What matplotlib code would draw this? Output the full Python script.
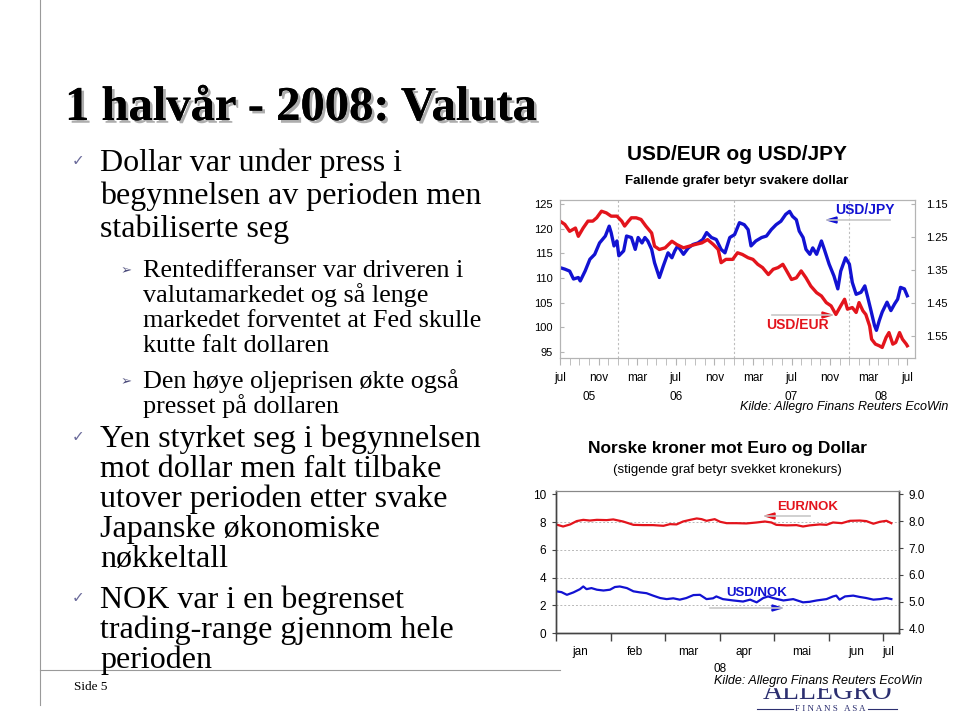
import numpy as np
import matplotlib
matplotlib.use('Agg')
from matplotlib import pyplot as plt
from matplotlib import transforms
import matplotlib.patheffects as pe

# --- data: USD/JPY (left axis) and USD/EUR (right axis, inverted), months since jul 2005
jpy_months = [0.0, 0.5, 1.0, 1.4, 1.9, 2.1, 2.6, 3.1, 3.6, 4.1, 4.7, 5.1, 5.3, 5.6, 5.9,
              6.1, 6.6, 6.9, 7.4, 7.8, 8.1, 8.5, 8.8, 9.1, 9.5, 9.8, 10.3, 10.7, 11.2, 11.6,
              11.9, 12.2, 12.8, 13.3, 13.8, 14.3, 14.8, 15.2, 15.7, 16.2, 16.7, 17.1, 17.6,
              18.1, 18.6, 19.1, 19.5, 19.8, 20.3, 20.9, 21.4, 21.9, 22.4, 22.9, 23.4, 23.8,
              24.1, 24.5, 24.8, 25.2, 25.5, 25.9, 26.2, 26.6, 27.1, 27.4, 27.9, 28.4, 28.8,
              29.1, 29.6, 30.0, 30.3, 30.7, 31.2, 31.6, 31.9, 32.2, 32.6, 32.8, 33.1, 33.4,
              33.9, 34.3, 34.7, 35.0, 35.3, 35.7, 36.0]
jpy_values = [112.1, 111.8, 111.4, 109.8, 110.1, 109.4, 111.4, 113.8, 114.8, 117.1, 118.5,
              120.5, 119.2, 116.5, 117.5, 114.5, 115.5, 118.5, 118.2, 115.8, 118.2, 117.1,
              118.2, 117.5, 115.8, 113.1, 110.1, 112.4, 115.1, 114.1, 115.5, 116.5, 114.8,
              116.1, 116.8, 117.1, 117.8, 119.2, 118.2, 117.8, 115.8, 115.1, 118.2, 118.8,
              121.2, 120.8, 119.8, 116.5, 117.5, 118.2, 118.5, 119.8, 120.8, 121.5, 122.9,
              123.5, 122.5, 121.8, 119.5, 118.2, 115.8, 114.8, 116.1, 114.8, 117.5, 115.8,
              112.8, 110.4, 107.8, 111.4, 114.1, 112.8, 109.1, 106.7, 107.1, 108.4, 106.1,
              103.7, 100.4, 99.4, 101.4, 103.1, 105.1, 103.4, 104.8, 105.7, 108.1, 107.8, 106.4]
eur_months = [0.0, 0.5, 1.0, 1.6, 1.9, 2.4, 2.9, 3.4, 3.8, 4.3, 4.8, 5.3, 5.9, 6.4, 6.7,
              7.1, 7.4, 7.9, 8.4, 8.9, 9.5, 9.8, 10.3, 10.9, 11.6, 12.1, 12.8, 13.4, 14.0,
              14.7, 15.3, 15.9, 16.4, 16.7, 17.2, 17.9, 18.4, 18.9, 19.5, 20.0, 20.5, 21.0,
              21.6, 22.1, 22.6, 23.1, 23.4, 24.0, 24.5, 25.0, 25.5, 26.0, 26.6, 27.1, 27.6,
              28.1, 28.6, 29.1, 29.5, 29.8, 30.3, 30.7, 31.0, 31.4, 31.7, 32.1, 32.3, 32.7,
              33.1, 33.4, 33.8, 34.1, 34.5, 34.8, 35.2, 35.5, 35.9, 36.0]
eur_values = [1.202, 1.212, 1.233, 1.223, 1.248, 1.223, 1.202, 1.202, 1.192, 1.172, 1.177,
              1.187, 1.187, 1.202, 1.217, 1.202, 1.192, 1.192, 1.197, 1.217, 1.238, 1.278,
              1.288, 1.283, 1.263, 1.273, 1.283, 1.278, 1.273, 1.268, 1.258, 1.273, 1.288,
              1.328, 1.318, 1.318, 1.298, 1.303, 1.313, 1.318, 1.333, 1.343, 1.364, 1.348,
              1.343, 1.333, 1.348, 1.379, 1.374, 1.353, 1.374, 1.399, 1.419, 1.429, 1.449,
              1.459, 1.485, 1.459, 1.439, 1.469, 1.464, 1.479, 1.449, 1.474, 1.485, 1.520,
              1.560, 1.575, 1.580, 1.585, 1.555, 1.540, 1.575, 1.570, 1.540, 1.560, 1.575, 1.580]
top_month_labels = ['jul', 'nov', 'mar', 'jul', 'nov', 'mar', 'jul', 'nov', 'mar', 'jul']
top_year_labels = ['05', '06', '07', '08']
left_ticks_top = [95, 100, 105, 110, 115, 120, 125]
right_ticks_top = [1.15, 1.25, 1.35, 1.45, 1.55]

# --- data: EUR/NOK (left axis) and USD/NOK (right axis), months since jan 2008
eurnok_months = [0, 0.13, 0.26, 0.38, 0.50, 0.62, 0.75, 0.93, 1.05, 1.23, 1.42, 1.60, 1.78,
                 1.97, 2.09, 2.21, 2.33, 2.46, 2.58, 2.67, 2.76, 2.91, 3.01, 3.13, 3.31, 3.49,
                 3.68, 3.83, 3.95, 4.04, 4.23, 4.41, 4.53, 4.65, 4.84, 4.96, 5.08, 5.24, 5.39,
                 5.57, 5.69, 5.82, 5.94, 6.06, 6.15]
eurnok_values = [7.83, 7.68, 7.83, 8.07, 8.16, 8.11, 8.16, 8.14, 8.19, 8.04, 7.80, 7.78, 7.78,
                 7.73, 7.85, 7.83, 8.04, 8.16, 8.26, 8.21, 8.09, 8.21, 8.02, 7.92, 7.92, 7.90,
                 7.97, 8.04, 7.97, 7.80, 7.76, 7.78, 7.68, 7.76, 7.83, 7.80, 7.97, 7.92, 8.09,
                 8.11, 8.07, 7.88, 8.02, 8.09, 7.92]
usdnok_months = [0, 0.10, 0.20, 0.32, 0.44, 0.50, 0.56, 0.65, 0.75, 0.87, 0.99, 1.08, 1.17,
                 1.30, 1.42, 1.54, 1.66, 1.78, 1.91, 2.03, 2.15, 2.27, 2.39, 2.52, 2.64, 2.76,
                 2.88, 2.94, 3.06, 3.25, 3.43, 3.56, 3.68, 3.80, 3.89, 3.98, 4.17, 4.35, 4.53,
                 4.65, 4.78, 4.96, 5.08, 5.14, 5.20, 5.30, 5.45, 5.57, 5.69, 5.82, 5.94, 6.06, 6.15]
usdnok_values = [5.39, 5.36, 5.26, 5.35, 5.47, 5.57, 5.47, 5.51, 5.45, 5.42, 5.45, 5.55, 5.57,
                 5.51, 5.39, 5.35, 5.32, 5.23, 5.14, 5.10, 5.13, 5.08, 5.14, 5.25, 5.26, 5.10,
                 5.13, 5.20, 5.10, 5.05, 5.01, 5.08, 4.98, 5.14, 5.20, 5.14, 5.05, 5.10, 4.98,
                 5.00, 5.05, 5.10, 5.20, 5.23, 5.08, 5.20, 5.23, 5.18, 5.14, 5.08, 5.10, 5.14, 5.10]
bottom_month_labels = ['jan', 'feb', 'mar', 'apr', 'mai', 'jun', 'jul']
left_ticks_bot = [0, 2, 4, 6, 8, 10]
right_ticks_bot = [4.0, 5.0, 6.0, 7.0, 8.0, 9.0]

# slide text
title = '1 halvår - 2008: Valuta'
bullet1 = ['Dollar var under press i', 'begynnelsen av perioden men', 'stabiliserte seg']
sub1 = ['Rentedifferanser var driveren i', 'valutamarkedet og så lenge',
        'markedet forventet at Fed skulle', 'kutte falt dollaren']
sub2 = ['Den høye oljeprisen økte også', 'presset på dollaren']
bullet2 = ['Yen styrket seg i begynnelsen', 'mot dollar men falt tilbake',
           'utover perioden etter svake', 'Japanske økonomiske', 'nøkkeltall']
bullet3 = ['NOK var i en begrenset', 'trading-range gjennom hele', 'perioden']

W, H = 960, 720
def fx(x):
    return x / W
def fy(y):
    return 1 - y / H

SANS = ['Liberation Sans', 'DejaVu Sans']
SERIF = ['Liberation Serif', 'DejaVu Serif']
RED = '#e3141c'
BLUE = '#1212d2'
GRAYLINE = '#b4b4b4'

fig = plt.figure(figsize=(9.6, 7.2), dpi=100)
fig.patch.set_facecolor('white')

# slide frame lines
fig.add_artist(plt.Line2D([fx(40), fx(40)], [fy(0), fy(705)], color='#9a9a9a', lw=0.8))
fig.add_artist(plt.Line2D([fx(40), fx(560)], [fy(670), fy(670)], color='#9a9a9a', lw=0.8))

# title with shadow
fig.text(fx(65), fy(120), title, family=SERIF, fontsize=35, fontweight='bold',
         color='black', va='baseline',
         path_effects=[pe.withSimplePatchShadow(offset=(2, -2), shadow_rgbFace='#777777', alpha=0.6),
                       pe.Normal()])

# bullets
MAIN = 23
SUB = 18.8
def main_block(lines, y0, pitch=30):
    fig.text(fx(72), fy(y0 - 6), '\u2713', family=['DejaVu Sans'], fontsize=11,
             color='#6a6a9a', va='baseline', ha='left')
    for i, t in enumerate(lines):
        fig.text(fx(100), fy(y0 + i * pitch), t, family=SERIF, fontsize=MAIN, va='baseline')

def sub_block(lines, y0, pitch=25):
    fig.text(fx(121), fy(y0 - 3), '\u27a2', family=['DejaVu Sans'], fontsize=9.5,
             color='#4a4a7a', va='baseline', ha='left')
    for i, t in enumerate(lines):
        fig.text(fx(143), fy(y0 + i * pitch), t, family=SERIF, fontsize=SUB, va='baseline')

main_block(bullet1, 171, pitch=33)
sub_block(sub1, 277)
sub_block(sub2, 388)
main_block(bullet2, 447)
main_block(bullet3, 608)
fig.text(fx(91), fy(687), 'Side 5', family=SERIF, fontsize=9.5, ha='center', va='center')

# ---------------- top chart ----------------
ax1 = fig.add_axes([fx(560), fy(358), fx(915) - fx(560), fy(200) - fy(358)])
ax1.plot(jpy_months, jpy_values, color=BLUE, lw=2.4, solid_joinstyle='round')
ax1.set_xlim(0, 36.8)
ax1.set_ylim(93.8, 125.8)
ax1.set_yticks(left_ticks_top)
ax1.set_yticklabels([str(v) for v in left_ticks_top], family=SANS, fontsize=8)
ax1.set_xticks(np.arange(0, 37, 4))
ax1.set_xticklabels(top_month_labels, family=SANS, fontsize=8.5)
ax1.set_xticks(np.arange(0, 37, 1), minor=True)
ax1.tick_params(axis='x', which='both', direction='out', length=5, color=GRAYLINE, pad=5)
ax1.tick_params(axis='y', direction='in', length=3, color=GRAYLINE, pad=5)
for x in [6, 18, 30]:
    ax1.axvline(x, color='#bdbdbd', lw=0.8, ls=(0, (2, 2)), zorder=0)
for s in ax1.spines.values():
    s.set_color(GRAYLINE)
    s.set_linewidth(0.8)
trans = transforms.blended_transform_factory(ax1.transData, ax1.transAxes)
for x, lab in zip([3, 12, 24, 33.3], top_year_labels):
    ax1.text(x, -0.245, lab, transform=trans, family=SANS, fontsize=8.5, ha='center', va='center')

ax2 = ax1.twinx()
ax2.plot(eur_months, eur_values, color=RED, lw=2.4, solid_joinstyle='round')
ax2.set_ylim(1.617, 1.138)
ax2.set_yticks(right_ticks_top)
ax2.set_yticklabels(['%.2f' % v for v in right_ticks_top], family=SANS, fontsize=8)
ax2.tick_params(axis='y', direction='in', length=3, color=GRAYLINE, pad=8)
for s in ax2.spines.values():
    s.set_color(GRAYLINE)
    s.set_linewidth(0.8)

fig.text(fx(737), fy(155), 'USD/EUR og USD/JPY', family=SANS, fontsize=15, fontweight='bold',
         ha='center', va='center')
fig.text(fx(737), fy(181), 'Fallende grafer betyr svakere dollar', family=SANS, fontsize=9.5,
         fontweight='bold', ha='center', va='center')
fig.text(fx(948), fy(407), 'Kilde: Allegro Finans Reuters EcoWin', family=SANS, fontsize=9,
         style='italic', ha='right', va='center')

# series labels with arrows
fig.text(fx(865), fy(210), 'USD/JPY', family=SANS, fontsize=10, fontweight='bold', color=BLUE,
         ha='center', va='center')
fig.text(fx(797), fy(325), 'USD/EUR', family=SANS, fontsize=10, fontweight='bold', color=RED,
         ha='center', va='center')

def label_arrow(x_tail, x_head, y, col):
    fig.add_artist(plt.Line2D([fx(x_tail), fx(x_head)], [fy(y), fy(y)], color='#c8c8c8', lw=1.2))
    d = 10 if x_head > x_tail else -10
    fig.add_artist(plt.Polygon([[fx(x_head), fy(y)], [fx(x_head - d), fy(y - 3)],
                                [fx(x_head - d), fy(y + 3)]], closed=True, color=col))

label_arrow(890, 827, 220, BLUE)
label_arrow(772, 832, 315, RED)

# ---------------- bottom chart ----------------
ax3 = fig.add_axes([fx(556), fy(633), fx(899) - fx(556), fy(491) - fy(633)])
ax3.plot(eurnok_months, eurnok_values, color=RED, lw=1.6)
ax3.set_xlim(0, 6.29)
ax3.set_ylim(0.05, 10.24)
ax3.set_yticks(left_ticks_bot)
ax3.set_yticklabels([str(v) for v in left_ticks_bot], family=SANS, fontsize=8.5)
for y in [2, 4, 6, 8]:
    ax3.axhline(y, color='#b8b8b8', lw=0.7, ls=(0, (2, 2)), zorder=0)
ax3.set_xticks(np.arange(0, 7, 1))
ax3.set_xticklabels([])
ax3.tick_params(axis='x', which='major', direction='out', length=6, color='#444444', width=1)
ax3.tick_params(axis='y', direction='out', length=3, color='#444444', pad=4)
for k in ['left', 'bottom', 'right']:
    ax3.spines[k].set_color('#444444')
    ax3.spines[k].set_linewidth(1.0)
ax3.spines['top'].set_color('#888888')
ax3.spines['top'].set_linewidth(0.8)
tb = transforms.blended_transform_factory(ax3.transData, ax3.transAxes)
for x, lab in zip([0.45, 1.45, 2.42, 3.45, 4.5, 5.5, 6.1], bottom_month_labels):
    ax3.text(x, -0.135, lab, transform=tb, family=SANS, fontsize=8.5, ha='center', va='center')
ax3.text(3.0, -0.25, '08', transform=tb, family=SANS, fontsize=8.5, ha='center', va='center')

ax4 = ax3.twinx()
ax4.plot(usdnok_months, usdnok_values, color=BLUE, lw=1.6)
ax4.set_ylim(3.84, 9.12)
ax4.set_yticks(right_ticks_bot)
ax4.set_yticklabels(['%.1f' % v for v in right_ticks_bot], family=SANS, fontsize=8.5)
ax4.tick_params(axis='y', direction='out', length=3, color='#444444', pad=4)
for k in ['left', 'bottom', 'right']:
    ax4.spines[k].set_color('#444444')
    ax4.spines[k].set_linewidth(1.0)
ax4.spines['top'].set_color('#888888')
ax4.spines['top'].set_linewidth(0.8)

fig.text(fx(727), fy(448), 'Norske kroner mot Euro og Dollar', family=SANS, fontsize=12.5,
         fontweight='bold', ha='center', va='center')
fig.text(fx(727), fy(470), '(stigende graf betyr svekket kronekurs)', family=SANS, fontsize=9.5,
         ha='center', va='center')
fig.text(fx(808), fy(507), 'EUR/NOK', family=SANS, fontsize=9.5, fontweight='bold', color=RED,
         ha='center', va='center')
fig.text(fx(757), fy(593), 'USD/NOK', family=SANS, fontsize=9.5, fontweight='bold', color=BLUE,
         ha='center', va='center')
label_arrow(810, 765, 516, RED)
label_arrow(710, 782, 608, BLUE)

# logo, top half hidden behind the source line
fig.text(fx(828), fy(699), 'ALLEGRO', family=SERIF, fontsize=20, color='#2c2f70',
         ha='center', va='baseline', zorder=1)
fig.add_artist(plt.Rectangle((fx(740), fy(687)), fx(925) - fx(740), fy(672) - fy(687),
                             color='white', zorder=2))
fig.text(fx(830), fy(709), 'F I N A N S   A S A', family=SERIF, fontsize=6.5, color='#2c2f70',
         ha='center', va='center', zorder=3)
fig.add_artist(plt.Line2D([fx(757), fx(793)], [fy(709), fy(709)], color='#2c2f70', lw=0.8))
fig.add_artist(plt.Line2D([fx(868), fx(897)], [fy(709), fy(709)], color='#2c2f70', lw=0.8))
fig.text(fx(922), fy(681), 'Kilde: Allegro Finans Reuters EcoWin', family=SANS, fontsize=9,
         style='italic', ha='right', va='center', zorder=4)

plt.savefig('out.png', dpi=100)
